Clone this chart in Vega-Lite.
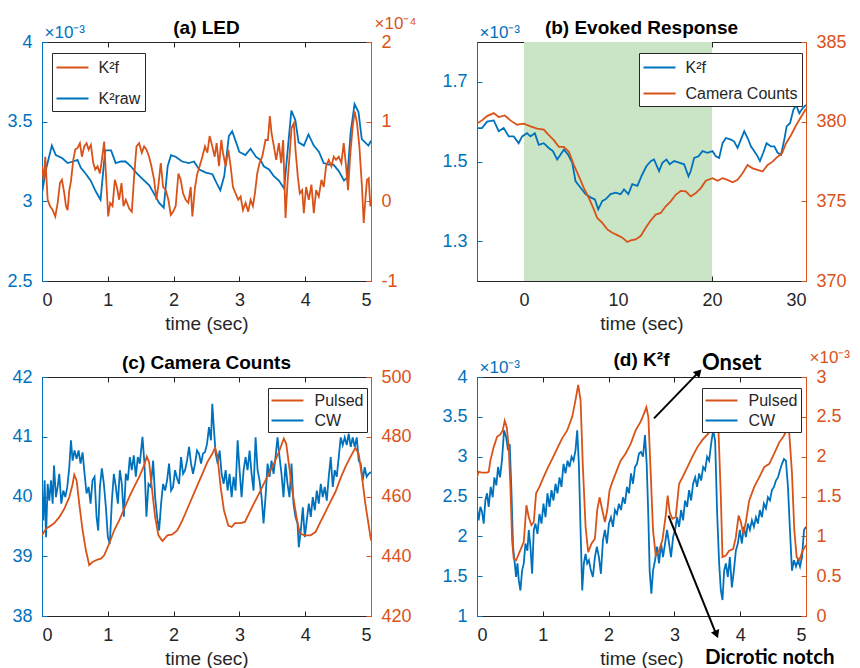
{
"$schema": "https://vega.github.io/schema/vega-lite/v6.json",
"padding": {"left": 6, "top": 13, "right": 0, "bottom": 0},
"columns": 2,
"spacing": {"row": 96, "column": 106},
"bounds": "flush",
"resolve": {"scale": {"color": "independent", "x": "independent", "y": "independent"}, "legend": {"color": "independent"}, "axis": {"x": "independent", "y": "independent"}},
"config": {
  "font": "Liberation Sans",
  "view": {"stroke": "#262626", "strokeWidth": 1},
  "axis": {"grid": false, "labelFontSize": 18, "titleFontSize": 19, "titleFontWeight": "normal", "tickSize": -5, "labelPadding": 15, "domainWidth": 1, "tickWidth": 1, "labelFont": "Liberation Sans", "titleFont": "Liberation Sans"},
  "axisX": {"domainColor": "#262626", "tickColor": "#262626", "labelColor": "#262626", "titleColor": "#262626", "titlePadding": 5},
  "title": {"fontSize": 19, "fontWeight": "bold", "color": "#000000", "frame": "group", "anchor": "middle", "font": "Liberation Sans"},
  "legend": {"orient": "none", "symbolStrokeWidth": 2, "labelFontSize": 16, "labelFont": "Liberation Sans", "labelColor": "#262626", "fillColor": "#ffffff", "strokeColor": "#262626", "padding": 4}
},
"datasets": {
"a_raw": [{"t":0,"v":3.05},{"t":0.06,"v":3.2},{"t":0.15,"v":3.35},{"t":0.21,"v":3.29},{"t":0.31,"v":3.27},{"t":0.39,"v":3.24},{"t":0.47,"v":3.25},{"t":0.54,"v":3.26},{"t":0.59,"v":3.21},{"t":0.67,"v":3.17},{"t":0.74,"v":3.13},{"t":0.82,"v":3.06},{"t":0.89,"v":3.01},{"t":0.96,"v":3.32},{"t":1.05,"v":3.32},{"t":1.12,"v":3.24},{"t":1.2,"v":3.25},{"t":1.27,"v":3.25},{"t":1.35,"v":3.22},{"t":1.43,"v":3.18},{"t":1.53,"v":3.14},{"t":1.63,"v":3.1},{"t":1.7,"v":3.05},{"t":1.78,"v":2.99},{"t":1.85,"v":2.96},{"t":1.91,"v":3.22},{"t":1.96,"v":3.29},{"t":2.03,"v":3.28},{"t":2.13,"v":3.25},{"t":2.23,"v":3.24},{"t":2.31,"v":3.25},{"t":2.39,"v":3.2},{"t":2.49,"v":3.18},{"t":2.59,"v":3.17},{"t":2.66,"v":3.11},{"t":2.71,"v":3.07},{"t":2.77,"v":3.16},{"t":2.84,"v":3.41},{"t":2.89,"v":3.44},{"t":2.95,"v":3.37},{"t":3.0,"v":3.31},{"t":3.09,"v":3.29},{"t":3.17,"v":3.33},{"t":3.25,"v":3.28},{"t":3.32,"v":3.26},{"t":3.37,"v":3.22},{"t":3.45,"v":3.2},{"t":3.52,"v":3.16},{"t":3.6,"v":3.13},{"t":3.68,"v":3.08},{"t":3.74,"v":3.35},{"t":3.79,"v":3.57},{"t":3.85,"v":3.51},{"t":3.9,"v":3.37},{"t":3.98,"v":3.35},{"t":4.05,"v":3.42},{"t":4.13,"v":3.35},{"t":4.21,"v":3.31},{"t":4.28,"v":3.24},{"t":4.36,"v":3.23},{"t":4.43,"v":3.23},{"t":4.51,"v":3.19},{"t":4.59,"v":3.13},{"t":4.64,"v":3.15},{"t":4.69,"v":3.43},{"t":4.75,"v":3.61},{"t":4.81,"v":3.56},{"t":4.86,"v":3.39},{"t":4.91,"v":3.37},{"t":4.96,"v":3.35},{"t":5.0,"v":3.38}],
"a_f": [{"t":0,"v":0.44},{"t":0.025,"v":0.27},{"t":0.05,"v":0.56},{"t":0.086,"v":0.02},{"t":0.121,"v":-0.06},{"t":0.162,"v":-0.11},{"t":0.202,"v":-0.19},{"t":0.238,"v":-0.02},{"t":0.273,"v":0.23},{"t":0.303,"v":0.27},{"t":0.339,"v":0.1},{"t":0.364,"v":-0.06},{"t":0.389,"v":-0.11},{"t":0.415,"v":0.14},{"t":0.44,"v":0.25},{"t":0.475,"v":0.52},{"t":0.506,"v":0.65},{"t":0.541,"v":0.67},{"t":0.576,"v":0.73},{"t":0.607,"v":0.56},{"t":0.642,"v":0.69},{"t":0.677,"v":0.73},{"t":0.708,"v":0.65},{"t":0.743,"v":0.71},{"t":0.779,"v":0.48},{"t":0.809,"v":0.4},{"t":0.844,"v":0.44},{"t":0.88,"v":0.35},{"t":0.91,"v":0.52},{"t":0.945,"v":0.75},{"t":0.971,"v":0.35},{"t":1.006,"v":-0.19},{"t":1.036,"v":-0.02},{"t":1.072,"v":-0.06},{"t":1.107,"v":0.27},{"t":1.138,"v":0.18},{"t":1.173,"v":0.02},{"t":1.208,"v":0.23},{"t":1.239,"v":-0.06},{"t":1.274,"v":0.02},{"t":1.325,"v":-0.09},{"t":1.365,"v":-0.13},{"t":1.4,"v":0.31},{"t":1.436,"v":0.69},{"t":1.476,"v":0.73},{"t":1.517,"v":0.61},{"t":1.552,"v":0.69},{"t":1.587,"v":0.65},{"t":1.628,"v":0.56},{"t":1.663,"v":0.44},{"t":1.704,"v":0.27},{"t":1.739,"v":0.02},{"t":1.77,"v":0.21},{"t":1.805,"v":0.48},{"t":1.84,"v":0.18},{"t":1.881,"v":0.14},{"t":1.921,"v":0.02},{"t":1.957,"v":-0.17},{"t":1.992,"v":-0.13},{"t":2.032,"v":-0.06},{"t":2.073,"v":0.35},{"t":2.108,"v":0.27},{"t":2.144,"v":0.1},{"t":2.184,"v":0.02},{"t":2.224,"v":-0.02},{"t":2.26,"v":0.18},{"t":2.285,"v":-0.19},{"t":2.326,"v":0.18},{"t":2.361,"v":0.35},{"t":2.396,"v":0.44},{"t":2.437,"v":0.56},{"t":2.477,"v":0.69},{"t":2.513,"v":0.61},{"t":2.548,"v":0.82},{"t":2.588,"v":0.69},{"t":2.624,"v":0.56},{"t":2.654,"v":0.73},{"t":2.69,"v":0.44},{"t":2.725,"v":0.77},{"t":2.75,"v":0.61},{"t":2.791,"v":0.44},{"t":2.831,"v":0.65},{"t":2.867,"v":0.44},{"t":2.902,"v":0.18},{"t":2.942,"v":0.1},{"t":2.983,"v":0.02},{"t":3.018,"v":0.06},{"t":3.054,"v":-0.11},{"t":3.094,"v":-0.02},{"t":3.134,"v":-0.13},{"t":3.17,"v":0.02},{"t":3.205,"v":-0.06},{"t":3.236,"v":0.1},{"t":3.271,"v":0.35},{"t":3.306,"v":0.48},{"t":3.347,"v":0.56},{"t":3.397,"v":0.77},{"t":3.433,"v":0.77},{"t":3.463,"v":1.07},{"t":3.488,"v":0.86},{"t":3.524,"v":0.69},{"t":3.559,"v":0.52},{"t":3.6,"v":0.73},{"t":3.635,"v":0.48},{"t":3.665,"v":0.77},{"t":3.701,"v":-0.21},{"t":3.731,"v":0.23},{"t":3.761,"v":0.56},{"t":3.792,"v":0.92},{"t":3.827,"v":0.98},{"t":3.852,"v":0.65},{"t":3.888,"v":0.31},{"t":3.918,"v":0.1},{"t":3.954,"v":0.14},{"t":3.979,"v":-0.15},{"t":4.014,"v":0.18},{"t":4.055,"v":0.02},{"t":4.095,"v":0.21},{"t":4.131,"v":-0.15},{"t":4.166,"v":0.14},{"t":4.206,"v":0.06},{"t":4.247,"v":0.27},{"t":4.282,"v":0.18},{"t":4.317,"v":0.44},{"t":4.358,"v":0.52},{"t":4.398,"v":0.44},{"t":4.434,"v":0.56},{"t":4.469,"v":0.52},{"t":4.51,"v":0.56},{"t":4.55,"v":0.48},{"t":4.585,"v":0.73},{"t":4.621,"v":0.44},{"t":4.651,"v":0.14},{"t":4.687,"v":0.61},{"t":4.722,"v":0.94},{"t":4.752,"v":1.13},{"t":4.788,"v":0.98},{"t":4.823,"v":0.69},{"t":4.863,"v":0.18},{"t":4.889,"v":-0.27},{"t":4.914,"v":0.02},{"t":4.939,"v":0.27},{"t":4.965,"v":0.29},{"t":4.99,"v":-0.06},{"t":5.0,"v":-0.04}],
"b_k": [{"t":-5,"v":1.584},{"t":-4.47,"v":1.584},{"t":-3.93,"v":1.6},{"t":-3.22,"v":1.603},{"t":-2.69,"v":1.576},{"t":-2.16,"v":1.584},{"t":-1.62,"v":1.563},{"t":-1.1,"v":1.563},{"t":-0.57,"v":1.546},{"t":-0.2,"v":1.563},{"t":0.32,"v":1.571},{"t":0.68,"v":1.563},{"t":1.15,"v":1.571},{"t":1.57,"v":1.542},{"t":2.1,"v":1.546},{"t":2.64,"v":1.534},{"t":3.07,"v":1.526},{"t":3.53,"v":1.505},{"t":3.88,"v":1.517},{"t":4.24,"v":1.53},{"t":4.7,"v":1.517},{"t":5.13,"v":1.497},{"t":5.48,"v":1.451},{"t":6.02,"v":1.434},{"t":6.55,"v":1.418},{"t":7.08,"v":1.41},{"t":7.54,"v":1.405},{"t":7.9,"v":1.38},{"t":8.33,"v":1.401},{"t":8.68,"v":1.405},{"t":9.21,"v":1.418},{"t":9.75,"v":1.422},{"t":10.28,"v":1.418},{"t":10.64,"v":1.43},{"t":11.1,"v":1.418},{"t":11.52,"v":1.443},{"t":12.06,"v":1.439},{"t":12.59,"v":1.468},{"t":13.02,"v":1.488},{"t":13.48,"v":1.501},{"t":13.83,"v":1.505},{"t":14.37,"v":1.476},{"t":14.72,"v":1.497},{"t":15.15,"v":1.505},{"t":15.5,"v":1.493},{"t":15.97,"v":1.501},{"t":16.5,"v":1.497},{"t":17.03,"v":1.493},{"t":17.5,"v":1.463},{"t":17.74,"v":1.476},{"t":18.1,"v":1.509},{"t":18.56,"v":1.513},{"t":18.99,"v":1.526},{"t":19.52,"v":1.522},{"t":20.05,"v":1.526},{"t":20.41,"v":1.513},{"t":20.76,"v":1.509},{"t":21.12,"v":1.546},{"t":21.48,"v":1.559},{"t":22.01,"v":1.555},{"t":22.36,"v":1.55},{"t":22.72,"v":1.534},{"t":23.07,"v":1.555},{"t":23.43,"v":1.576},{"t":23.79,"v":1.559},{"t":24.14,"v":1.538},{"t":24.5,"v":1.526},{"t":24.85,"v":1.513},{"t":25.1,"v":1.501},{"t":25.45,"v":1.522},{"t":25.81,"v":1.546},{"t":26.27,"v":1.538},{"t":26.63,"v":1.538},{"t":26.98,"v":1.522},{"t":27.34,"v":1.517},{"t":27.69,"v":1.555},{"t":27.94,"v":1.588},{"t":28.3,"v":1.596},{"t":28.65,"v":1.629},{"t":28.94,"v":1.642},{"t":29.29,"v":1.621},{"t":29.65,"v":1.634},{"t":30,"v":1.642}],
"b_c": [{"t":-5,"v":379.88},{"t":-4.47,"v":380.08},{"t":-3.93,"v":380.35},{"t":-3.22,"v":380.54},{"t":-2.69,"v":380.29},{"t":-2.05,"v":380.39},{"t":-1.45,"v":380.08},{"t":-0.74,"v":379.81},{"t":-0.02,"v":379.88},{"t":0.69,"v":379.71},{"t":1.4,"v":379.56},{"t":2.11,"v":379.5},{"t":2.64,"v":379.15},{"t":3.17,"v":378.84},{"t":3.71,"v":378.42},{"t":4.24,"v":378.42},{"t":4.77,"v":378.11},{"t":5.31,"v":377.28},{"t":5.84,"v":376.56},{"t":6.37,"v":375.83},{"t":6.9,"v":375.21},{"t":7.44,"v":374.48},{"t":7.79,"v":373.96},{"t":8.33,"v":373.65},{"t":8.86,"v":373.24},{"t":9.39,"v":373.03},{"t":9.93,"v":372.88},{"t":10.46,"v":372.72},{"t":10.99,"v":372.45},{"t":11.35,"v":372.55},{"t":11.88,"v":372.61},{"t":12.41,"v":372.82},{"t":12.95,"v":373.34},{"t":13.48,"v":373.8},{"t":14.01,"v":374.17},{"t":14.55,"v":374.27},{"t":15.08,"v":374.69},{"t":15.61,"v":375.0},{"t":16.14,"v":375.41},{"t":16.68,"v":375.66},{"t":17.21,"v":375.62},{"t":17.74,"v":375.31},{"t":18.28,"v":375.52},{"t":18.81,"v":375.83},{"t":19.34,"v":376.29},{"t":20.05,"v":376.45},{"t":20.59,"v":376.29},{"t":21.12,"v":376.45},{"t":21.65,"v":376.35},{"t":22.19,"v":376.2},{"t":22.72,"v":376.35},{"t":23.25,"v":376.76},{"t":23.78,"v":377.28},{"t":24.32,"v":377.07},{"t":24.85,"v":376.97},{"t":25.38,"v":376.87},{"t":25.92,"v":377.28},{"t":26.45,"v":377.49},{"t":26.98,"v":377.8},{"t":27.44,"v":378.01},{"t":27.87,"v":378.63},{"t":28.4,"v":379.15},{"t":28.94,"v":379.77},{"t":29.47,"v":380.29},{"t":30,"v":380.81}],
"c_p": [{"t":0,"v":447.0},{"t":0.061,"v":449.2},{"t":0.137,"v":450.3},{"t":0.187,"v":451.1},{"t":0.263,"v":453.1},{"t":0.339,"v":455.9},{"t":0.415,"v":459.8},{"t":0.465,"v":464.1},{"t":0.49,"v":467.3},{"t":0.526,"v":465.4},{"t":0.566,"v":457.6},{"t":0.617,"v":448.7},{"t":0.667,"v":442.0},{"t":0.718,"v":437.0},{"t":0.768,"v":438.1},{"t":0.844,"v":438.9},{"t":0.895,"v":439.2},{"t":0.945,"v":440.3},{"t":1.021,"v":444.2},{"t":1.097,"v":448.7},{"t":1.173,"v":452.0},{"t":1.249,"v":455.9},{"t":1.325,"v":459.8},{"t":1.4,"v":463.2},{"t":1.476,"v":466.5},{"t":1.552,"v":470.4},{"t":1.593,"v":473.4},{"t":1.628,"v":471.5},{"t":1.668,"v":463.2},{"t":1.719,"v":453.1},{"t":1.77,"v":447.0},{"t":1.83,"v":445.1},{"t":1.906,"v":447.0},{"t":1.982,"v":447.3},{"t":2.058,"v":448.7},{"t":2.133,"v":452.0},{"t":2.209,"v":455.9},{"t":2.285,"v":459.8},{"t":2.361,"v":463.7},{"t":2.437,"v":467.6},{"t":2.513,"v":471.5},{"t":2.588,"v":474.3},{"t":2.629,"v":476.3},{"t":2.664,"v":473.8},{"t":2.715,"v":463.2},{"t":2.765,"v":455.4},{"t":2.831,"v":450.3},{"t":2.882,"v":449.8},{"t":2.932,"v":451.1},{"t":3.018,"v":451.1},{"t":3.084,"v":451.5},{"t":3.145,"v":454.3},{"t":3.22,"v":457.6},{"t":3.296,"v":460.9},{"t":3.372,"v":464.3},{"t":3.448,"v":467.6},{"t":3.524,"v":471.0},{"t":3.6,"v":474.9},{"t":3.675,"v":479.4},{"t":3.711,"v":477.7},{"t":3.751,"v":471.0},{"t":3.802,"v":462.1},{"t":3.868,"v":453.1},{"t":3.918,"v":447.6},{"t":3.994,"v":447.0},{"t":4.08,"v":447.0},{"t":4.156,"v":448.1},{"t":4.232,"v":451.5},{"t":4.307,"v":454.8},{"t":4.383,"v":458.2},{"t":4.459,"v":461.5},{"t":4.535,"v":466.0},{"t":4.611,"v":469.9},{"t":4.687,"v":473.2},{"t":4.762,"v":476.3},{"t":4.813,"v":474.3},{"t":4.863,"v":466.5},{"t":4.914,"v":457.6},{"t":4.965,"v":450.3},{"t":5.0,"v":445.3}],
"c_w": [{"t":0,"v":40.05},{"t":0.02,"v":39.6},{"t":0.04,"v":40.27},{"t":0.061,"v":39.32},{"t":0.086,"v":40.21},{"t":0.111,"v":39.93},{"t":0.137,"v":40.27},{"t":0.162,"v":39.88},{"t":0.182,"v":40.52},{"t":0.212,"v":39.99},{"t":0.238,"v":40.16},{"t":0.263,"v":40.38},{"t":0.293,"v":39.88},{"t":0.324,"v":40.1},{"t":0.354,"v":39.99},{"t":0.384,"v":40.16},{"t":0.415,"v":40.49},{"t":0.44,"v":40.94},{"t":0.465,"v":40.6},{"t":0.495,"v":40.77},{"t":0.526,"v":40.63},{"t":0.556,"v":40.77},{"t":0.586,"v":40.55},{"t":0.617,"v":40.74},{"t":0.647,"v":40.38},{"t":0.677,"v":40.05},{"t":0.708,"v":40.16},{"t":0.738,"v":39.88},{"t":0.768,"v":40.27},{"t":0.799,"v":40.33},{"t":0.829,"v":39.66},{"t":0.854,"v":39.43},{"t":0.88,"v":40.16},{"t":0.91,"v":40.47},{"t":0.94,"v":40.21},{"t":0.971,"v":39.82},{"t":1.001,"v":39.32},{"t":1.031,"v":39.21},{"t":1.062,"v":39.93},{"t":1.092,"v":40.38},{"t":1.122,"v":40.16},{"t":1.153,"v":39.88},{"t":1.183,"v":40.44},{"t":1.213,"v":40.21},{"t":1.244,"v":39.66},{"t":1.274,"v":40.38},{"t":1.304,"v":40.27},{"t":1.335,"v":40.66},{"t":1.365,"v":40.44},{"t":1.395,"v":40.69},{"t":1.426,"v":40.33},{"t":1.456,"v":40.66},{"t":1.486,"v":40.55},{"t":1.527,"v":41.0},{"t":1.557,"v":40.55},{"t":1.587,"v":39.66},{"t":1.618,"v":40.21},{"t":1.653,"v":40.16},{"t":1.689,"v":40.6},{"t":1.719,"v":39.99},{"t":1.749,"v":39.66},{"t":1.78,"v":39.43},{"t":1.81,"v":39.88},{"t":1.84,"v":40.21},{"t":1.871,"v":40.1},{"t":1.901,"v":40.27},{"t":1.931,"v":40.55},{"t":1.962,"v":40.1},{"t":1.992,"v":40.16},{"t":2.022,"v":40.44},{"t":2.053,"v":40.3},{"t":2.083,"v":40.21},{"t":2.113,"v":40.66},{"t":2.144,"v":40.38},{"t":2.174,"v":40.44},{"t":2.204,"v":40.6},{"t":2.235,"v":40.83},{"t":2.265,"v":40.55},{"t":2.295,"v":40.38},{"t":2.326,"v":40.55},{"t":2.356,"v":40.77},{"t":2.386,"v":40.72},{"t":2.417,"v":40.55},{"t":2.447,"v":40.72},{"t":2.477,"v":40.74},{"t":2.508,"v":40.88},{"t":2.538,"v":41.16},{"t":2.568,"v":40.94},{"t":2.588,"v":41.55},{"t":2.614,"v":41.11},{"t":2.639,"v":40.72},{"t":2.669,"v":40.55},{"t":2.7,"v":40.77},{"t":2.73,"v":40.38},{"t":2.76,"v":40.21},{"t":2.791,"v":40.44},{"t":2.821,"v":40.1},{"t":2.851,"v":40.38},{"t":2.882,"v":39.99},{"t":2.912,"v":40.33},{"t":2.942,"v":40.1},{"t":2.973,"v":40.94},{"t":3.003,"v":40.44},{"t":3.033,"v":39.99},{"t":3.064,"v":40.44},{"t":3.094,"v":40.66},{"t":3.124,"v":40.44},{"t":3.155,"v":40.77},{"t":3.185,"v":40.38},{"t":3.215,"v":40.1},{"t":3.246,"v":40.99},{"t":3.276,"v":40.44},{"t":3.306,"v":40.27},{"t":3.337,"v":39.99},{"t":3.367,"v":39.55},{"t":3.397,"v":39.99},{"t":3.428,"v":40.55},{"t":3.458,"v":40.33},{"t":3.488,"v":40.6},{"t":3.519,"v":40.38},{"t":3.549,"v":40.66},{"t":3.579,"v":40.99},{"t":3.61,"v":40.66},{"t":3.64,"v":40.38},{"t":3.67,"v":39.99},{"t":3.701,"v":40.55},{"t":3.731,"v":40.21},{"t":3.761,"v":39.99},{"t":3.792,"v":40.55},{"t":3.822,"v":39.88},{"t":3.852,"v":39.66},{"t":3.883,"v":39.55},{"t":3.903,"v":39.15},{"t":3.933,"v":39.43},{"t":3.964,"v":39.82},{"t":3.994,"v":39.32},{"t":4.024,"v":39.6},{"t":4.055,"v":39.88},{"t":4.085,"v":39.66},{"t":4.115,"v":39.99},{"t":4.146,"v":39.77},{"t":4.176,"v":40.1},{"t":4.206,"v":39.88},{"t":4.237,"v":40.21},{"t":4.267,"v":39.99},{"t":4.297,"v":40.16},{"t":4.328,"v":39.93},{"t":4.358,"v":40.33},{"t":4.388,"v":40.66},{"t":4.419,"v":40.16},{"t":4.449,"v":40.44},{"t":4.479,"v":40.33},{"t":4.51,"v":40.66},{"t":4.54,"v":40.99},{"t":4.57,"v":40.86},{"t":4.601,"v":40.99},{"t":4.631,"v":40.86},{"t":4.661,"v":41.05},{"t":4.692,"v":40.83},{"t":4.722,"v":40.99},{"t":4.752,"v":40.83},{"t":4.783,"v":40.99},{"t":4.813,"v":40.6},{"t":4.843,"v":40.55},{"t":4.874,"v":40.27},{"t":4.904,"v":40.49},{"t":4.934,"v":40.33},{"t":4.965,"v":40.38},{"t":5.0,"v":40.41}],
"d_p": [{"t":0,"v":1.745},{"t":0.025,"v":1.81},{"t":0.076,"v":1.8},{"t":0.152,"v":1.8},{"t":0.178,"v":1.81},{"t":0.203,"v":1.95},{"t":0.254,"v":2.12},{"t":0.305,"v":2.25},{"t":0.355,"v":2.28},{"t":0.391,"v":2.33},{"t":0.421,"v":2.45},{"t":0.452,"v":2.37},{"t":0.482,"v":2.12},{"t":0.508,"v":1.62},{"t":0.533,"v":0.95},{"t":0.558,"v":0.72},{"t":0.594,"v":0.7},{"t":0.635,"v":0.78},{"t":0.67,"v":0.85},{"t":0.711,"v":0.93},{"t":0.751,"v":1.39},{"t":0.787,"v":1.24},{"t":0.827,"v":1.14},{"t":0.863,"v":1.18},{"t":0.898,"v":1.54},{"t":0.949,"v":1.62},{"t":1.015,"v":1.75},{"t":1.081,"v":1.87},{"t":1.142,"v":1.97},{"t":1.218,"v":2.1},{"t":1.294,"v":2.23},{"t":1.371,"v":2.33},{"t":1.447,"v":2.5},{"t":1.497,"v":2.71},{"t":1.538,"v":2.9},{"t":1.574,"v":2.71},{"t":1.609,"v":1.87},{"t":1.65,"v":1.12},{"t":1.69,"v":0.8},{"t":1.741,"v":0.91},{"t":1.792,"v":0.97},{"t":1.827,"v":1.33},{"t":1.863,"v":1.49},{"t":1.904,"v":1.33},{"t":1.944,"v":1.18},{"t":1.98,"v":1.33},{"t":2.015,"v":1.58},{"t":2.056,"v":1.68},{"t":2.107,"v":1.79},{"t":2.183,"v":1.95},{"t":2.259,"v":2.04},{"t":2.335,"v":2.16},{"t":2.411,"v":2.33},{"t":2.487,"v":2.44},{"t":2.538,"v":2.54},{"t":2.574,"v":2.62},{"t":2.604,"v":2.5},{"t":2.64,"v":1.79},{"t":2.675,"v":1.08},{"t":2.716,"v":0.76},{"t":2.766,"v":0.82},{"t":2.817,"v":0.95},{"t":2.868,"v":1.26},{"t":2.898,"v":1.51},{"t":2.929,"v":1.3},{"t":2.97,"v":1.22},{"t":3.02,"v":1.24},{"t":3.071,"v":1.66},{"t":3.122,"v":1.74},{"t":3.198,"v":1.87},{"t":3.274,"v":2.0},{"t":3.35,"v":2.12},{"t":3.426,"v":2.21},{"t":3.503,"v":2.28},{"t":3.553,"v":2.33},{"t":3.619,"v":2.55},{"t":3.67,"v":2.33},{"t":3.706,"v":1.49},{"t":3.731,"v":0.74},{"t":3.782,"v":0.76},{"t":3.832,"v":0.82},{"t":3.893,"v":0.84},{"t":3.934,"v":0.99},{"t":3.975,"v":1.26},{"t":4.01,"v":1.18},{"t":4.046,"v":1.03},{"t":4.086,"v":1.18},{"t":4.137,"v":1.45},{"t":4.213,"v":1.62},{"t":4.289,"v":1.74},{"t":4.365,"v":1.87},{"t":4.442,"v":1.91},{"t":4.518,"v":2.04},{"t":4.594,"v":2.18},{"t":4.655,"v":2.25},{"t":4.706,"v":2.33},{"t":4.721,"v":2.42},{"t":4.746,"v":2.29},{"t":4.787,"v":1.79},{"t":4.822,"v":1.08},{"t":4.858,"v":0.74},{"t":4.898,"v":0.7},{"t":4.949,"v":0.82},{"t":5.0,"v":0.89}],
"d_w": [{"t":0,"v":2.35},{"t":0.025,"v":2.2},{"t":0.051,"v":2.37},{"t":0.076,"v":2.31},{"t":0.102,"v":2.16},{"t":0.127,"v":2.45},{"t":0.152,"v":2.54},{"t":0.178,"v":2.37},{"t":0.208,"v":2.62},{"t":0.239,"v":2.49},{"t":0.264,"v":2.74},{"t":0.294,"v":2.64},{"t":0.32,"v":2.87},{"t":0.35,"v":2.74},{"t":0.381,"v":2.97},{"t":0.411,"v":3.33},{"t":0.442,"v":3.25},{"t":0.472,"v":3.08},{"t":0.497,"v":3.16},{"t":0.523,"v":2.58},{"t":0.548,"v":1.87},{"t":0.574,"v":1.66},{"t":0.594,"v":1.49},{"t":0.614,"v":1.66},{"t":0.635,"v":1.45},{"t":0.66,"v":1.32},{"t":0.685,"v":1.57},{"t":0.711,"v":1.66},{"t":0.736,"v":1.91},{"t":0.766,"v":1.82},{"t":0.787,"v":2.08},{"t":0.812,"v":1.87},{"t":0.838,"v":1.53},{"t":0.863,"v":2.08},{"t":0.888,"v":2.16},{"t":0.919,"v":2.03},{"t":0.949,"v":2.28},{"t":0.98,"v":2.16},{"t":1.01,"v":2.41},{"t":1.041,"v":2.24},{"t":1.071,"v":2.54},{"t":1.102,"v":2.37},{"t":1.132,"v":2.58},{"t":1.162,"v":2.45},{"t":1.193,"v":2.66},{"t":1.223,"v":2.54},{"t":1.254,"v":2.74},{"t":1.284,"v":2.62},{"t":1.315,"v":2.91},{"t":1.345,"v":2.79},{"t":1.376,"v":2.95},{"t":1.406,"v":2.87},{"t":1.437,"v":3.0},{"t":1.467,"v":2.95},{"t":1.497,"v":3.08},{"t":1.523,"v":3.33},{"t":1.548,"v":2.91},{"t":1.574,"v":2.08},{"t":1.599,"v":1.32},{"t":1.624,"v":1.66},{"t":1.65,"v":1.78},{"t":1.675,"v":1.66},{"t":1.701,"v":1.7},{"t":1.731,"v":1.57},{"t":1.761,"v":1.49},{"t":1.792,"v":1.74},{"t":1.822,"v":1.87},{"t":1.853,"v":1.74},{"t":1.883,"v":1.53},{"t":1.914,"v":1.95},{"t":1.944,"v":2.08},{"t":1.975,"v":1.91},{"t":2.005,"v":2.16},{"t":2.036,"v":2.24},{"t":2.066,"v":2.12},{"t":2.096,"v":2.33},{"t":2.127,"v":2.28},{"t":2.157,"v":2.41},{"t":2.188,"v":2.33},{"t":2.218,"v":2.49},{"t":2.249,"v":2.41},{"t":2.279,"v":2.62},{"t":2.31,"v":2.54},{"t":2.34,"v":2.79},{"t":2.371,"v":2.66},{"t":2.401,"v":2.87},{"t":2.431,"v":2.91},{"t":2.462,"v":3.04},{"t":2.492,"v":3.06},{"t":2.523,"v":3.0},{"t":2.553,"v":3.27},{"t":2.579,"v":2.91},{"t":2.604,"v":2.24},{"t":2.624,"v":1.57},{"t":2.65,"v":1.28},{"t":2.675,"v":1.57},{"t":2.706,"v":1.7},{"t":2.736,"v":1.87},{"t":2.766,"v":1.66},{"t":2.797,"v":1.91},{"t":2.827,"v":1.74},{"t":2.858,"v":1.91},{"t":2.888,"v":2.08},{"t":2.919,"v":1.91},{"t":2.949,"v":1.74},{"t":2.98,"v":1.99},{"t":3.01,"v":2.08},{"t":3.041,"v":2.24},{"t":3.071,"v":2.12},{"t":3.102,"v":2.33},{"t":3.132,"v":2.2},{"t":3.162,"v":2.45},{"t":3.193,"v":2.37},{"t":3.223,"v":2.58},{"t":3.254,"v":2.45},{"t":3.284,"v":2.66},{"t":3.315,"v":2.74},{"t":3.345,"v":2.62},{"t":3.376,"v":2.79},{"t":3.406,"v":2.7},{"t":3.437,"v":2.87},{"t":3.467,"v":2.83},{"t":3.497,"v":3.0},{"t":3.528,"v":2.95},{"t":3.558,"v":3.16},{"t":3.589,"v":3.33},{"t":3.619,"v":3.2},{"t":3.65,"v":2.28},{"t":3.68,"v":1.66},{"t":3.706,"v":1.32},{"t":3.731,"v":1.2},{"t":3.756,"v":1.57},{"t":3.782,"v":1.66},{"t":3.812,"v":1.49},{"t":3.843,"v":1.74},{"t":3.873,"v":1.36},{"t":3.904,"v":1.57},{"t":3.934,"v":1.82},{"t":3.964,"v":1.91},{"t":3.995,"v":2.08},{"t":4.025,"v":1.91},{"t":4.056,"v":2.12},{"t":4.086,"v":1.99},{"t":4.117,"v":2.16},{"t":4.147,"v":2.08},{"t":4.178,"v":2.2},{"t":4.208,"v":2.12},{"t":4.239,"v":2.24},{"t":4.269,"v":2.16},{"t":4.299,"v":2.33},{"t":4.33,"v":2.24},{"t":4.36,"v":2.41},{"t":4.391,"v":2.35},{"t":4.421,"v":2.49},{"t":4.452,"v":2.45},{"t":4.482,"v":2.58},{"t":4.513,"v":2.62},{"t":4.543,"v":2.7},{"t":4.574,"v":2.74},{"t":4.604,"v":2.83},{"t":4.635,"v":2.91},{"t":4.665,"v":2.97},{"t":4.695,"v":2.95},{"t":4.726,"v":2.62},{"t":4.756,"v":2.08},{"t":4.787,"v":1.57},{"t":4.817,"v":1.7},{"t":4.848,"v":1.62},{"t":4.878,"v":1.7},{"t":4.909,"v":1.62},{"t":4.939,"v":1.74},{"t":4.97,"v":2.08},{"t":5.0,"v":2.12}]
},
"concat": [
{
  "title": {"text": "(a) LED", "offset": -24},
  "width": 329, "height": 239,
  "resolve": {"scale": {"y": "independent"}, "axis": {"x": "independent"}},
  "layer": [
    {"data": {"name": "a_raw"},
     "mark": {"type": "line", "strokeWidth": 1.8, "clip": true},
     "encoding": {
       "x": {"field": "t", "type": "quantitative", "scale": {"domain": [0, 5], "nice": false, "zero": false}, "axis": {"values": [0,1,2,3,4,5], "labelExpr": "toString(datum.value)", "title": "time (sec)"}},
       "y": {"field": "v", "type": "quantitative", "scale": {"domain": [2.5, 4], "nice": false, "zero": false}, "axis": {"orient": "left", "values": [2.5,3,3.5,4], "labelExpr": "toString(datum.value)", "title": "×10⁻³", "titleAngle": 0, "titleAlign": "left", "titleBaseline": "alphabetic", "titleX": 2, "titleY": -5, "titleFontSize": 17, "domainColor": "#0072BD", "tickColor": "#0072BD", "labelColor": "#0072BD", "titleColor": "#0072BD"}},
       "color": {"datum": "K²raw", "scale": {"domain": ["K²f", "K²raw"], "range": ["#D95319", "#0072BD"]}, "legend": {"title": null, "legendX": 10, "legendY": 11, "symbolType": "M-1.684,0L1.684,0", "symbolSize": 361, "symbolOffset": 6, "labelOffset": 15.5, "rowPadding": 12}}
     }},
    {"data": {"name": "a_f"},
     "mark": {"type": "line", "strokeWidth": 1.8, "clip": true},
     "encoding": {
       "x": {"field": "t", "type": "quantitative", "scale": {"domain": [0, 5], "nice": false, "zero": false}, "axis": {"orient": "top", "values": [0,1,2,3,4,5], "labels": false, "domain": false, "title": null}},
       "y": {"field": "v", "type": "quantitative", "scale": {"domain": [-1, 2], "nice": false, "zero": false}, "axis": {"orient": "right", "values": [-1,0,1,2], "labelExpr": "toString(datum.value)", "title": "×10⁻⁴", "titleAngle": 0, "titleAlign": "left", "titleBaseline": "alphabetic", "titleX": 3, "titleY": -14, "titleFontSize": 17, "domainColor": "#D95319", "tickColor": "#D95319", "labelColor": "#D95319", "titleColor": "#D95319"}},
       "color": {"datum": "K²f"}
     }}
  ]
},
{
  "title": {"text": "(b) Evoked Response", "offset": -15},
  "width": 329, "height": 239,
  "resolve": {"scale": {"y": "independent"}, "axis": {"x": "independent"}},
  "layer": [
    {"data": {"values": [{"t0": 0, "t1": 20}]},
     "mark": {"type": "rect", "color": "#c9e5c5"},
     "encoding": {
       "x": {"field": "t0", "type": "quantitative", "scale": {"domain": [-5, 30], "nice": false, "zero": false}, "axis": {"values": [0,10,20,30], "labelExpr": "toString(datum.value)", "title": "time (sec)"}},
       "x2": {"field": "t1"}
     }},
    {"data": {"name": "b_k"},
     "mark": {"type": "line", "strokeWidth": 1.8, "clip": true},
     "encoding": {
       "x": {"field": "t", "type": "quantitative", "scale": {"domain": [-5, 30], "nice": false, "zero": false}, "axis": {"orient": "top", "values": [0,10,20,30], "labels": false, "domain": false, "title": null}},
       "y": {"field": "v", "type": "quantitative", "scale": {"domain": [1.2, 1.8], "nice": false, "zero": false}, "axis": {"orient": "left", "values": [1.3,1.5,1.7], "labelExpr": "toString(datum.value)", "title": "×10⁻³", "titleAngle": 0, "titleAlign": "left", "titleBaseline": "alphabetic", "titleX": 2, "titleY": -5, "titleFontSize": 17, "domainColor": "#0072BD", "tickColor": "#0072BD", "labelColor": "#0072BD", "titleColor": "#0072BD"}},
       "color": {"datum": "K²f", "scale": {"domain": ["K²f", "Camera Counts"], "range": ["#0072BD", "#D95319"]}, "legend": {"title": null, "legendX": 162, "legendY": 11, "symbolType": "M-1.684,0L1.684,0", "symbolSize": 361, "symbolOffset": 6, "labelOffset": 15.5, "rowPadding": 7}}
     }},
    {"data": {"name": "b_c"},
     "mark": {"type": "line", "strokeWidth": 1.8, "clip": true},
     "encoding": {
       "x": {"field": "t", "type": "quantitative", "axis": null},
       "y": {"field": "v", "type": "quantitative", "scale": {"domain": [370, 385], "nice": false, "zero": false}, "axis": {"orient": "right", "values": [370,375,380,385], "labelExpr": "toString(datum.value)", "title": null, "domainColor": "#D95319", "tickColor": "#D95319", "labelColor": "#D95319"}},
       "color": {"datum": "Camera Counts"}
     }}
  ]
},
{
  "title": {"text": "(c) Camera Counts", "offset": -4.5},
  "width": 329, "height": 239,
  "resolve": {"scale": {"y": "independent"}, "axis": {"x": "independent"}},
  "layer": [
    {"data": {"name": "c_w"},
     "mark": {"type": "line", "strokeWidth": 1.8, "clip": true},
     "encoding": {
       "x": {"field": "t", "type": "quantitative", "scale": {"domain": [0, 5], "nice": false, "zero": false}, "axis": {"values": [0,1,2,3,4,5], "labelExpr": "toString(datum.value)", "title": "time (sec)"}},
       "y": {"field": "v", "type": "quantitative", "scale": {"domain": [38, 42], "nice": false, "zero": false}, "axis": {"orient": "left", "values": [38,39,40,41,42], "labelExpr": "toString(datum.value)", "title": null, "domainColor": "#0072BD", "tickColor": "#0072BD", "labelColor": "#0072BD"}},
       "color": {"datum": "CW", "scale": {"domain": ["Pulsed", "CW"], "range": ["#D95319", "#0072BD"]}, "legend": {"title": null, "legendX": 226, "legendY": 11, "symbolType": "M-1.88,0L1.88,0", "symbolSize": 289, "symbolOffset": 7, "labelOffset": 17.5, "rowPadding": 2, "padding": 3}}
     }},
    {"data": {"name": "c_p"},
     "mark": {"type": "line", "strokeWidth": 1.8, "clip": true},
     "encoding": {
       "x": {"field": "t", "type": "quantitative", "scale": {"domain": [0, 5], "nice": false, "zero": false}, "axis": {"orient": "top", "values": [0,1,2,3,4,5], "labels": false, "domain": false, "title": null}},
       "y": {"field": "v", "type": "quantitative", "scale": {"domain": [420, 500], "nice": false, "zero": false}, "axis": {"orient": "right", "values": [420,440,460,480,500], "labelExpr": "toString(datum.value)", "title": null, "domainColor": "#D95319", "tickColor": "#D95319", "labelColor": "#D95319"}},
       "color": {"datum": "Pulsed"}
     }}
  ]
},
{
  "title": {"text": "(d) K²f", "offset": -21.5},
  "width": 329, "height": 239,
  "resolve": {"scale": {"y": "independent"}, "axis": {"x": "independent"}},
  "layer": [
    {"data": {"name": "d_w"},
     "mark": {"type": "line", "strokeWidth": 1.8, "clip": true},
     "encoding": {
       "x": {"field": "t", "type": "quantitative", "scale": {"domain": [0, 5], "nice": false, "zero": false}, "axis": {"values": [0,1,2,3,4,5], "labelExpr": "toString(datum.value)", "title": "time (sec)"}},
       "y": {"field": "v", "type": "quantitative", "scale": {"domain": [1, 4], "nice": false, "zero": false}, "axis": {"orient": "left", "values": [1,1.5,2,2.5,3,3.5,4], "labelExpr": "toString(datum.value)", "title": "×10⁻³", "titleAngle": 0, "titleAlign": "left", "titleBaseline": "alphabetic", "titleX": 2, "titleY": -5, "titleFontSize": 17, "domainColor": "#0072BD", "tickColor": "#0072BD", "labelColor": "#0072BD", "titleColor": "#0072BD"}},
       "color": {"datum": "CW", "scale": {"domain": ["Pulsed", "CW"], "range": ["#D95319", "#0072BD"]}, "legend": {"title": null, "legendX": 225, "legendY": 11, "symbolType": "M-1.88,0L1.88,0", "symbolSize": 289, "symbolOffset": 7, "labelOffset": 17.5, "rowPadding": 2, "padding": 3}}
     }},
    {"data": {"name": "d_p"},
     "mark": {"type": "line", "strokeWidth": 1.8, "clip": true},
     "encoding": {
       "x": {"field": "t", "type": "quantitative", "scale": {"domain": [0, 5], "nice": false, "zero": false}, "axis": {"orient": "top", "values": [0,1,2,3,4,5], "labels": false, "domain": false, "title": null}},
       "y": {"field": "v", "type": "quantitative", "scale": {"domain": [0, 3], "nice": false, "zero": false}, "axis": {"orient": "right", "values": [0,0.5,1,1.5,2,2.5,3], "labelExpr": "toString(datum.value)", "title": "×10⁻³", "titleAngle": 0, "titleAlign": "left", "titleBaseline": "alphabetic", "titleX": 3, "titleY": -15, "titleFontSize": 17, "domainColor": "#D95319", "tickColor": "#D95319", "labelColor": "#D95319", "titleColor": "#D95319"}},
       "color": {"datum": "Pulsed"}
     }},
    {"data": {"values": [{"t": 2.69, "v": 2.48, "t2": 3.38, "v2": 3.07}, {"t": 2.91, "v": 1.26, "t2": 3.65, "v2": -0.26}]},
     "mark": {"type": "rule", "color": "#000000", "strokeWidth": 2, "clip": false},
     "encoding": {
       "x": {"field": "t", "type": "quantitative", "axis": null},
       "x2": {"field": "t2"},
       "y": {"field": "v", "type": "quantitative", "scale": {"domain": [0, 3], "nice": false, "zero": false}, "axis": null},
       "y2": {"field": "v2"}
     }},
    {"data": {"values": [{"t": 3.37, "v": 3.06}]},
     "mark": {"type": "point", "shape": "triangle-up", "filled": true, "color": "#000000", "opacity": 1, "size": 80, "angle": 44, "clip": false},
     "encoding": {
       "x": {"field": "t", "type": "quantitative", "axis": null},
       "y": {"field": "v", "type": "quantitative", "scale": {"domain": [0, 3], "nice": false, "zero": false}, "axis": null}
     }},
    {"data": {"values": [{"t": 3.64, "v": -0.23}]},
     "mark": {"type": "point", "shape": "triangle-up", "filled": true, "color": "#000000", "opacity": 1, "size": 80, "angle": 158, "clip": false},
     "encoding": {
       "x": {"field": "t", "type": "quantitative", "axis": null},
       "y": {"field": "v", "type": "quantitative", "scale": {"domain": [0, 3], "nice": false, "zero": false}, "axis": null}
     }},
    {"data": {"values": [{"t": 3.42, "v": 3.18, "label": "Onset"}]},
     "mark": {"type": "text", "font": "Lato", "fontWeight": "bold", "fontSize": 22, "align": "left", "baseline": "middle", "color": "#000000", "clip": false},
     "encoding": {
       "x": {"field": "t", "type": "quantitative", "axis": null},
       "y": {"field": "v", "type": "quantitative", "scale": {"domain": [0, 3], "nice": false, "zero": false}, "axis": null},
       "text": {"field": "label"}
     }},
    {"data": {"values": [{"t": 3.465, "v": -0.521, "label": "Dicrotic notch"}]},
     "mark": {"type": "text", "font": "Lato", "fontWeight": "bold", "fontSize": 20.5, "align": "left", "baseline": "middle", "color": "#000000", "clip": false},
     "encoding": {
       "x": {"field": "t", "type": "quantitative", "axis": null},
       "y": {"field": "v", "type": "quantitative", "scale": {"domain": [0, 3], "nice": false, "zero": false}, "axis": null},
       "text": {"field": "label"}
     }}
  ]
}
]
}
